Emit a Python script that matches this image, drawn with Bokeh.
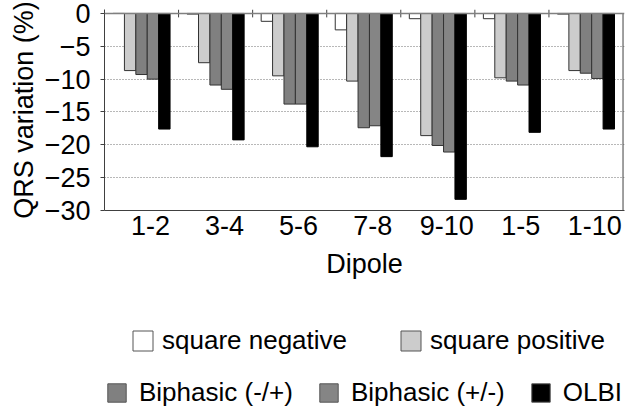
import numpy as np
from bokeh.plotting import figure
from bokeh.layouts import column
from bokeh.models import Range1d, FixedTicker, LinearAxis, Legend, LegendItem, Span
from bokeh.embed import file_html
from bokeh.resources import INLINE

# ---- data ----
dipoles = ["1-2", "3-4", "5-6", "7-8", "9-10", "1-5", "1-10"]
series_names = ["square negative", "square positive", "Biphasic (-/+)", "Biphasic (+/-)", "OLBI"]
square_negative = [0.0, -0.1, -1.2, -2.5, -0.8, -0.8, -0.1]
square_positive = [-8.7, -7.5, -9.5, -10.3, -18.6, -9.8, -8.7]
biphasic_mp = [-9.3, -10.9, -13.8, -17.4, -20.1, -10.3, -9.1]
biphasic_pm = [-10.0, -11.55, -13.8, -17.1, -21.1, -10.9, -9.9]
olbi = [-17.6, -19.25, -20.3, -21.8, -28.3, -18.1, -17.6]
y_ticks = [0, -5, -10, -15, -20, -25, -30]

series_values = [square_negative, square_positive, biphasic_mp, biphasic_pm, olbi]
fill_colors = ["#ffffff", "#cccccc", "#808080", "#858585", "#000000"]
line_colors = ["#333333", "#333333", "#333333", "#333333", "#000000"]

FONT = "Liberation Sans"
AX_FS = "27px"
W = 644
H1, H2 = 292, 120
n = len(dipoles)

p = figure(width=W, height=H1, output_backend="svg", toolbar_location=None,
           x_range=Range1d(0, n + 0.02), y_range=Range1d(min(y_ticks), max(y_ticks) + 0.6),
           x_axis_type=None,
           min_border_left=104, min_border_right=20, min_border_top=9, min_border_bottom=H1 - 210)
p.background_fill_color = "white"
p.border_fill_color = "white"
p.outline_line_color = None

idx = np.arange(n)
bar_w = 0.154
renderers = []
for k, vals in enumerate(series_values):
    xs = idx + 0.5 + (k - 2) * bar_w
    r = p.vbar(x=xs, width=bar_w, top=0, bottom=vals,
               fill_color=fill_colors[k], line_color=line_colors[k], line_width=1)
    renderers.append(r)

# zero line, group boundary ticks and right border
p.add_layout(Span(location=0, dimension="width", line_color="#808080", line_width=1.5))
p.segment(x0=idx[1:], x1=idx[1:], y0=0.6, y1=-0.6, line_color="#404040", line_width=1)
p.segment(x0=[n], x1=[n], y0=[0], y1=[min(y_ticks)], line_color="#404040", line_width=1)

# bottom axis with category labels
label_shift = 0.12
tick_pos = [float(i + 0.5 + label_shift) for i in idx]
xaxis = LinearAxis(ticker=FixedTicker(ticks=tick_pos),
                   major_label_overrides={t: d for t, d in zip(tick_pos, dipoles)})
xaxis.major_tick_line_color = None
xaxis.minor_tick_line_color = None
xaxis.axis_line_color = "#404040"
xaxis.major_tick_out = 0
xaxis.major_tick_in = 0
xaxis.major_label_standoff = 5
xaxis.major_label_text_font = FONT
xaxis.major_label_text_font_size = AX_FS
xaxis.major_label_text_color = "black"
xaxis.axis_label = "Dipole"
xaxis.axis_label_text_font = FONT
xaxis.axis_label_text_font_size = AX_FS
xaxis.axis_label_text_font_style = "normal"
xaxis.axis_label_text_color = "black"
xaxis.axis_label_standoff = 11
p.add_layout(xaxis, "below")

# y axis
p.yaxis.ticker = FixedTicker(ticks=y_ticks)
p.yaxis.major_label_text_font = FONT
p.yaxis.major_label_text_font_size = AX_FS
p.yaxis.major_label_text_color = "black"
p.yaxis.major_label_standoff = 10
p.yaxis.major_tick_out = 4
p.yaxis.major_tick_in = 0
p.yaxis.major_tick_line_color = "#404040"
p.yaxis.minor_tick_line_color = None
p.yaxis.axis_line_color = "#404040"
p.yaxis.axis_label = "QRS variation (%)"
p.yaxis.axis_label_text_font = FONT
p.yaxis.axis_label_text_font_size = AX_FS
p.yaxis.axis_label_text_font_style = "normal"
p.yaxis.axis_label_text_color = "black"
p.yaxis.axis_label_standoff = 3

p.ygrid.ticker = FixedTicker(ticks=y_ticks[1:-1])
p.ygrid.grid_line_color = "#707070"
p.ygrid.grid_line_dash = "1 2"
p.ygrid.grid_line_width = 1

# ---- legend panel (frame is aligned with the chart's frame by the column layout) ----
q = figure(width=W, height=H2, output_backend="svg", toolbar_location=None,
           x_range=Range1d(0, 1), y_range=Range1d(0, 1),
           x_axis_type=None, y_axis_type=None,
           min_border_left=104, min_border_right=0, min_border_top=0, min_border_bottom=0)
q.outline_line_color = None
q.xgrid.visible = False
q.ygrid.visible = False
q.background_fill_color = "white"
q.border_fill_color = "white"
leg_r = []
for k in range(len(series_names)):
    # legend swatches only: placed outside the visible range of this panel
    leg_r.append(q.vbar(x=[-10], width=0.1, top=[-10], bottom=[-11], fill_color=fill_colors[k],
                        line_color="#555555", line_width=1))

def make_legend(items, loc, glyph, standoff, spacing, fs):
    return Legend(items=items, location=loc, orientation="horizontal",
                  glyph_width=glyph, glyph_height=glyph, label_standoff=standoff,
                  spacing=spacing, padding=0, margin=0,
                  label_text_font=FONT, label_text_font_size=fs, label_text_color="black",
                  background_fill_alpha=0, border_line_color=None)

row1 = [LegendItem(label=series_names[k], renderers=[leg_r[k]]) for k in (0, 1)]
row2 = [LegendItem(label=series_names[k], renderers=[leg_r[k]]) for k in (2, 3, 4)]
q.add_layout(make_legend(row1, (26, 56), 25, 7, 51, "26px"))
q.add_layout(make_legend(row2, (1, 4), 23, 11, 24, "26px"))

layout = column(p, q, spacing=0)
open("out.html", "w").write(file_html(layout, INLINE))
